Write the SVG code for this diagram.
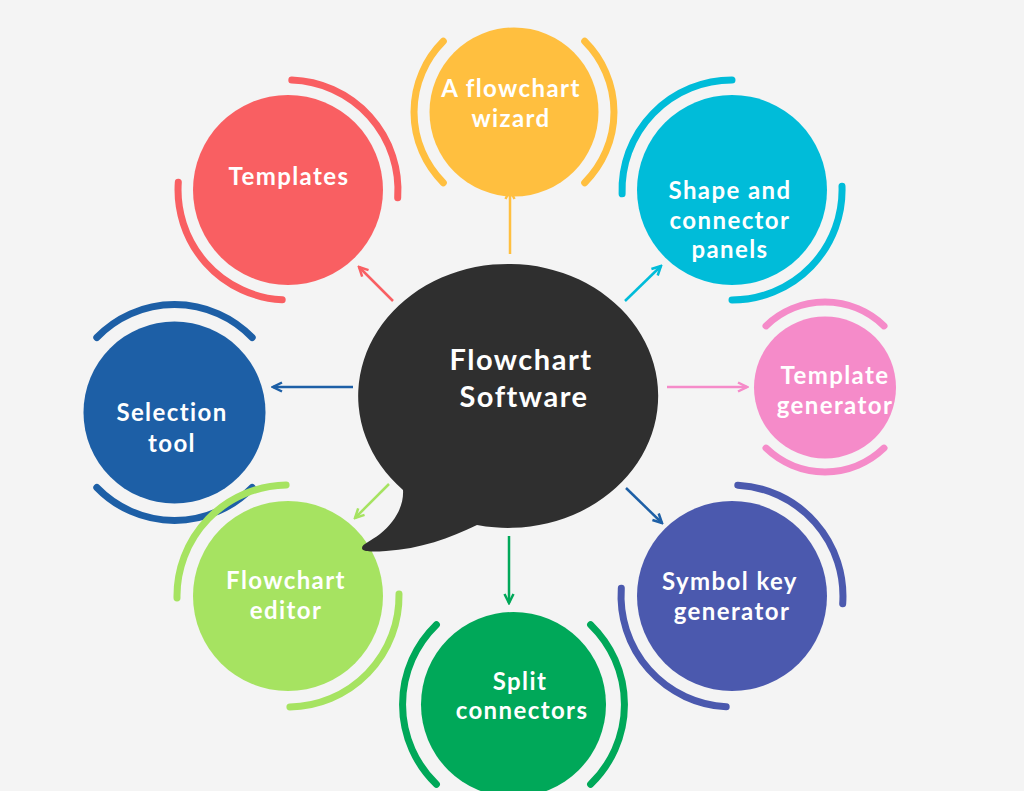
<svg xmlns="http://www.w3.org/2000/svg" width="1024" height="811" viewBox="0 0 1024 811">
  <style>
    .lbl { font-family: Lato, "Open Sans", "Liberation Sans", sans-serif; font-weight: 700; font-size: 24px; fill: #ffffff; text-anchor: middle; letter-spacing: 1.4px; }
    .hub { font-family: Lato, "Open Sans", "Liberation Sans", sans-serif; font-weight: 700; font-size: 29px; fill: #ffffff; text-anchor: middle; letter-spacing: 1.5px; }
    .arc { fill: none; stroke-width: 7; stroke-linecap: round; }
    .con { fill: none; stroke-width: 2.5; }
    .head { fill: none; stroke-width: 2.5; stroke-linejoin: miter; }
  </style>
  <defs>
    <clipPath id="page"><rect x="0" y="0" width="1024" height="791"/></clipPath>
    <marker id="m-red" viewBox="0 0 12 12" refX="10" refY="6" markerWidth="12" markerHeight="12" markerUnits="userSpaceOnUse" orient="auto"><path class="head" d="M1,1.5 L10,6 L1,10.5" stroke="#f95f62"/></marker>
    <marker id="m-yellow" viewBox="0 0 12 12" refX="10" refY="6" markerWidth="12" markerHeight="12" markerUnits="userSpaceOnUse" orient="auto"><path class="head" d="M1,1.5 L10,6 L1,10.5" stroke="#ffbf3f"/></marker>
    <marker id="m-teal" viewBox="0 0 12 12" refX="10" refY="6" markerWidth="12" markerHeight="12" markerUnits="userSpaceOnUse" orient="auto"><path class="head" d="M1,1.5 L10,6 L1,10.5" stroke="#00bcd9"/></marker>
    <marker id="m-pink" viewBox="0 0 12 12" refX="10" refY="6" markerWidth="12" markerHeight="12" markerUnits="userSpaceOnUse" orient="auto"><path class="head" d="M1,1.5 L10,6 L1,10.5" stroke="#f58bc9"/></marker>
    <marker id="m-blue" viewBox="0 0 12 12" refX="10" refY="6" markerWidth="12" markerHeight="12" markerUnits="userSpaceOnUse" orient="auto"><path class="head" d="M1,1.5 L10,6 L1,10.5" stroke="#1d5fa6"/></marker>
    <marker id="m-lime" viewBox="0 0 12 12" refX="10" refY="6" markerWidth="12" markerHeight="12" markerUnits="userSpaceOnUse" orient="auto"><path class="head" d="M1,1.5 L10,6 L1,10.5" stroke="#a6e361"/></marker>
    <marker id="m-green" viewBox="0 0 12 12" refX="10" refY="6" markerWidth="12" markerHeight="12" markerUnits="userSpaceOnUse" orient="auto"><path class="head" d="M1,1.5 L10,6 L1,10.5" stroke="#00a859"/></marker>
  </defs>

  <rect x="0" y="0" width="1024" height="811" fill="#ffffff"/>
  <rect x="0" y="0" width="1024" height="791" fill="#f4f4f4"/>

  <g clip-path="url(#page)">
    <!-- spokes from the hub to each feature -->
    <g id="connectors">
      <line class="con" x1="393" y1="301" x2="359" y2="267" stroke="#f95f62" marker-end="url(#m-red)"/>
      <line class="con" x1="510" y1="254" x2="510" y2="190" stroke="#ffbf3f" marker-end="url(#m-yellow)"/>
      <line class="con" x1="625" y1="301" x2="661" y2="266" stroke="#00bcd9" marker-end="url(#m-teal)"/>
      <line class="con" x1="667" y1="387" x2="747" y2="387" stroke="#f58bc9" marker-end="url(#m-pink)"/>
      <line class="con" x1="353" y1="387" x2="273" y2="387" stroke="#1d5fa6" marker-end="url(#m-blue)"/>
      <line class="con" x1="389" y1="484" x2="355" y2="518" stroke="#a6e361" marker-end="url(#m-lime)"/>
      <line class="con" x1="509" y1="536" x2="509" y2="603" stroke="#00a859" marker-end="url(#m-green)"/>
      <line class="con" x1="626" y1="488" x2="662" y2="523" stroke="#1d5fa6" marker-end="url(#m-blue)"/>
    </g>

    <g id="node-templates">
      <path class="arc" stroke="#f95f62" d="M291.8 80.1 A110 110 0 0 1 397.7 197.7"/>
      <path class="arc" stroke="#f95f62" d="M282.2 299.8 A110 110 0 0 1 178.3 182.3"/>
      <circle cx="288" cy="190" r="95" fill="#f95f62"/>
      <text class="lbl" x="289" y="185">Templates</text>
    </g>

    <g id="node-wizard">
      <path class="arc" stroke="#ffbf3f" d="M443.3 41.3 A100 100 0 0 0 443.3 182.7"/>
      <path class="arc" stroke="#ffbf3f" d="M584.7 41.3 A100 100 0 0 1 584.7 182.7"/>
      <circle cx="514" cy="112" r="84.5" fill="#ffbf3f"/>
      <text class="lbl" x="511" y="97">A flowchart</text>
      <text class="lbl" x="511" y="127">wizard</text>
    </g>

    <g id="node-panels">
      <path class="arc" stroke="#00bcd9" d="M622.1 193.8 A110 110 0 0 1 732 80"/>
      <path class="arc" stroke="#00bcd9" d="M842 186.2 A110 110 0 0 1 732 300"/>
      <circle cx="732" cy="190" r="95" fill="#00bcd9"/>
      <text class="lbl" x="730" y="199">Shape and</text>
      <text class="lbl" x="730" y="229">connector</text>
      <text class="lbl" x="730" y="258">panels</text>
    </g>

    <g id="node-template-generator">
      <path class="arc" stroke="#f58bc9" d="M766 325.9 A85 85 0 0 1 884 325.9"/>
      <path class="arc" stroke="#f58bc9" d="M884 448.1 A85 85 0 0 1 766 448.1"/>
      <circle cx="825" cy="387.5" r="71" fill="#f58bc9"/>
      <text class="lbl" x="835" y="384">Template</text>
      <text class="lbl" x="835" y="414">generator</text>
    </g>

    <g id="node-selection">
      <path class="arc" stroke="#1d5fa6" d="M96.8 337.5 A108 108 0 0 1 252.2 337.5"/>
      <path class="arc" stroke="#1d5fa6" d="M252.2 487.5 A108 108 0 0 1 96.8 487.5"/>
      <circle cx="174.5" cy="412.5" r="91" fill="#1d5fa6"/>
      <text class="lbl" x="172" y="421">Selection</text>
      <text class="lbl" x="172" y="452">tool</text>
    </g>

    <g id="node-editor">
      <path class="arc" stroke="#a6e361" d="M177 597.9 A111 111 0 0 1 286.1 485"/>
      <path class="arc" stroke="#a6e361" d="M399 594.1 A111 111 0 0 1 289.9 707"/>
      <circle cx="288" cy="596" r="95" fill="#a6e361"/>
      <text class="lbl" x="286" y="589">Flowchart</text>
      <text class="lbl" x="286" y="619">editor</text>
    </g>

    <g id="node-split">
      <path class="arc" stroke="#00a859" d="M436.4 624.7 A111 111 0 0 0 436.4 784.3"/>
      <path class="arc" stroke="#00a859" d="M590.6 624.7 A111 111 0 0 1 590.6 784.3"/>
      <circle cx="513.5" cy="704.5" r="92.5" fill="#00a859"/>
      <text class="lbl" x="520" y="690">Split</text>
      <text class="lbl" x="522" y="719">connectors</text>
    </g>

    <g id="node-symbol-key">
      <path class="arc" stroke="#4b59ae" d="M737.8 485.2 A111 111 0 0 1 842.7 603.7"/>
      <path class="arc" stroke="#4b59ae" d="M726.2 706.8 A111 111 0 0 1 621.3 588.3"/>
      <circle cx="732" cy="596" r="95" fill="#4b59ae"/>
      <text class="lbl" x="730" y="590">Symbol key</text>
      <text class="lbl" x="732" y="620">generator</text>
    </g>

    <!-- speech-bubble hub -->
    <g id="node-hub">
      <path fill="#2f2f2f" d="M477 525 A150 132 0 1 0 403 490 C404 505 396 521 380 534 C371 541 362 544 362 548 C362 552 372 552 386 551 C420 549 450 538 477 525 Z"/>
      <text class="hub" x="521" y="370">Flowchart</text>
      <text class="hub" x="524" y="407">Software</text>
    </g>
  </g>
</svg>
